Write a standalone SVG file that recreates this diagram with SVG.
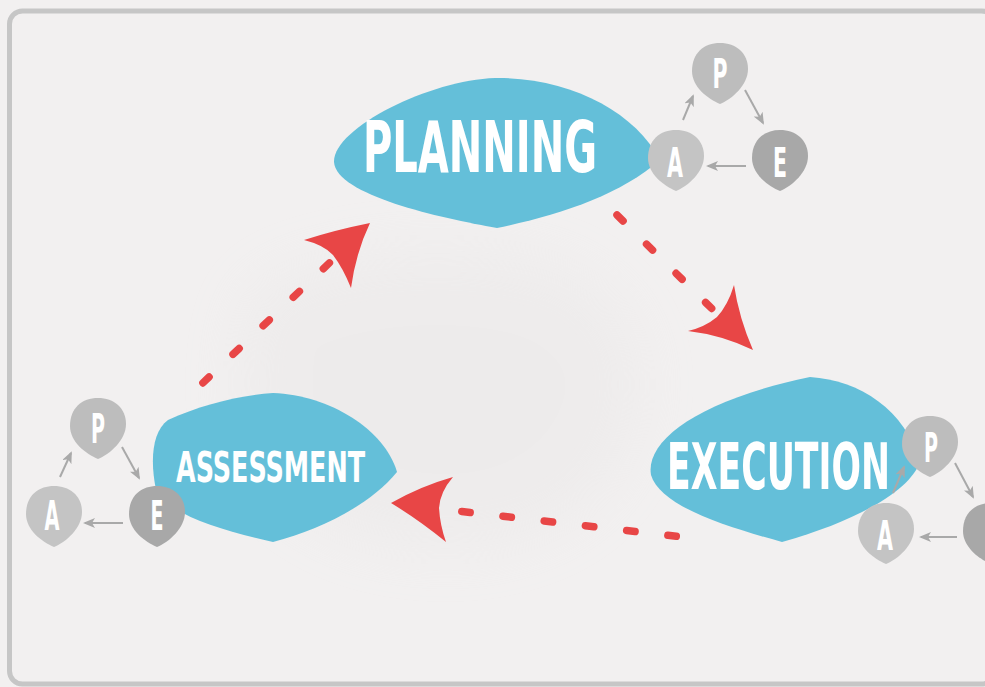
<svg xmlns="http://www.w3.org/2000/svg" width="985" height="687" viewBox="0 0 985 687">
  <defs>
    <style>
      .stage { fill: #64bfd9; }
      .stage-label { fill: #ffffff; font-family: "DejaVu Sans Condensed", "Liberation Sans", sans-serif; font-weight: bold; }
      .mini-label { fill: #ffffff; font-family: "DejaVu Sans Condensed", "Liberation Sans", sans-serif; font-weight: bold; font-size: 40px; text-anchor: middle; }
      .mini-p { fill: #bdbdbd; }
      .mini-a { fill: #c4c4c4; }
      .mini-e { fill: #a8a8a8; }
      .flow { fill: none; stroke: #e84646; stroke-width: 7.5; stroke-linecap: round; stroke-dasharray: 8.5 33; }
      .flow-head { fill: #e84646; }
      .mini-link { fill: none; stroke: #a9a9a9; stroke-width: 2; marker-end: url(#mini-arrow); }
    </style>
    <marker id="mini-arrow" viewBox="0 0 12 10" refX="10" refY="5" markerWidth="12" markerHeight="10" markerUnits="userSpaceOnUse" orient="auto">
      <path d="M0,0 L12,5 L0,10 L3,5 Z" fill="#a9a9a9"/>
    </marker>
    <!-- rounded pebble used for the P / A / E badges -->
    <path id="pebble" d="M0,-30 C16,-30 28,-20 28,-4 C28,12 12,26 0,31 C-12,26 -28,14 -28,-2 C-28,-20 -16,-30 0,-30 Z"/>
    <filter id="wash" x="-30%" y="-30%" width="160%" height="160%">
      <feGaussianBlur stdDeviation="30"/>
    </filter>
  </defs>

  <!-- paper -->
  <rect x="0" y="0" width="985" height="687" fill="#f2f0f0"/>
  <path d="M260,290 C330,250 470,240 560,270 C640,300 660,380 620,460 C580,540 470,560 380,540 C290,520 230,450 240,380 C245,340 240,310 260,290 Z" fill="#e6e4e4" opacity="0.35" filter="url(#wash)"/>
  <rect x="9.5" y="11" width="985" height="673" rx="13" fill="none" stroke="#c6c6c6" stroke-width="5"/>

  <!-- stage nodes -->
  <g id="planning">
    <path class="stage" d="M334,162 C333,128 430,80 495,78 C570,77 635,112 660,160 C620,195 560,215 497,228 C440,218 336,195 334,162 Z"/>
    <text class="stage-label" x="363" y="172" font-size="72" textLength="234" lengthAdjust="spacingAndGlyphs">PLANNING</text>
  </g>
  <g id="assessment">
    <path class="stage" d="M273,393 C330,395 385,430 397,472 C370,505 320,530 273,542 C220,530 170,515 156,490 C150,460 152,432 168,420 C200,405 240,395 273,393 Z"/>
    <text class="stage-label" x="176" y="482" font-size="43" textLength="189" lengthAdjust="spacingAndGlyphs">ASSESSMENT</text>
  </g>
  <g id="execution">
    <path class="stage" d="M810,377 C860,380 905,410 920,462 C910,490 860,520 782,542 C720,525 660,505 651,475 C645,440 700,400 810,377 Z"/>
    <text class="stage-label" x="667" y="489" font-size="64" textLength="223" lengthAdjust="spacingAndGlyphs">EXECUTION</text>
  </g>

  <!-- main cycle connectors -->
  <g id="connectors">
    <path class="flow" d="M202.9,382.9 L329.4,262.9"/>
    <path class="flow-head" d="M370,223 Q335,230 304,240 Q324,245 333,255 Q343,268 351,288 Q356,252 370,223 Z"/>
    <path class="flow" d="M617,215 L711.7,308.5"/>
    <path class="flow-head" d="M753,350 Q739,318 734,285 Q728,305 717,317 Q705,327 688,331 Q722,335 753,350 Z"/>
    <path class="flow" d="M676.3,536.3 L461.8,511.5"/>
    <path class="flow-head" d="M391,503 Q421,486 453,477 Q440,492 439,508 Q440,525 446,542 Q419,520 391,503 Z"/>

    <!-- mini cycle links -->
    <path class="mini-link" d="M683,120 L693,96"/>
    <path class="mini-link" d="M745,90 L763,123"/>
    <path class="mini-link" d="M746,166 L708,166"/>

    <path class="mini-link" d="M60,477 L71,453"/>
    <path class="mini-link" d="M122,447 L139,478"/>
    <path class="mini-link" d="M123,523 L85,523"/>

    <path class="mini-link" d="M893,493 L904,467"/>
    <path class="mini-link" d="M955,463 L973,497"/>
    <path class="mini-link" d="M957,537 L921,537"/>
  </g>

  <!-- planning sub-cycle -->
  <g id="planning-p">
    <use href="#pebble" class="mini-p" transform="translate(720,73)"/>
    <text class="mini-label" x="720" y="88" textLength="15" lengthAdjust="spacingAndGlyphs">P</text>
  </g>
  <g id="planning-a">
    <use href="#pebble" class="mini-a" transform="translate(676,160)"/>
    <text class="mini-label" x="675" y="177" textLength="16" lengthAdjust="spacingAndGlyphs">A</text>
  </g>
  <g id="planning-e">
    <use href="#pebble" class="mini-e" transform="translate(780,160)"/>
    <text class="mini-label" x="780" y="177" textLength="14" lengthAdjust="spacingAndGlyphs">E</text>
  </g>

  <!-- assessment sub-cycle -->
  <g id="assessment-p">
    <use href="#pebble" class="mini-p" transform="translate(98,428)"/>
    <text class="mini-label" x="98" y="443" textLength="14" lengthAdjust="spacingAndGlyphs">P</text>
  </g>
  <g id="assessment-a">
    <use href="#pebble" class="mini-a" transform="translate(54,516)"/>
    <text class="mini-label" x="52" y="530" textLength="15" lengthAdjust="spacingAndGlyphs">A</text>
  </g>
  <g id="assessment-e">
    <use href="#pebble" class="mini-e" transform="translate(157,516)"/>
    <text class="mini-label" x="157" y="530" textLength="13" lengthAdjust="spacingAndGlyphs">E</text>
  </g>

  <!-- execution sub-cycle -->
  <g id="execution-p">
    <use href="#pebble" class="mini-p" transform="translate(930,446)"/>
    <text class="mini-label" x="931" y="462" textLength="14" lengthAdjust="spacingAndGlyphs">P</text>
  </g>
  <g id="execution-a">
    <use href="#pebble" class="mini-a" transform="translate(886,533)"/>
    <text class="mini-label" x="885" y="550" textLength="16" lengthAdjust="spacingAndGlyphs">A</text>
  </g>
  <g id="execution-e">
    <use href="#pebble" class="mini-e" transform="translate(991,533)"/>
    <text class="mini-label" x="991" y="550" textLength="14" lengthAdjust="spacingAndGlyphs">E</text>
  </g>
</svg>
